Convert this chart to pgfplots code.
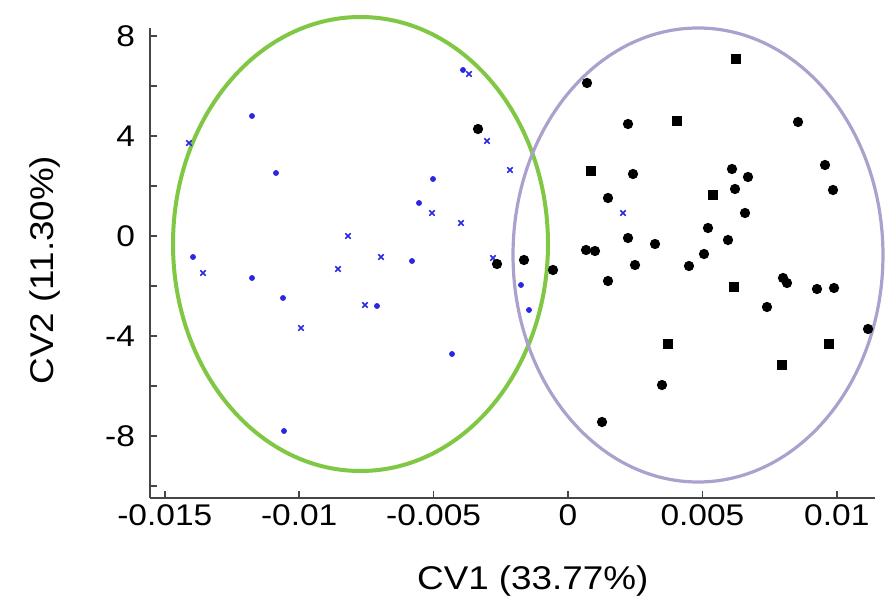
\documentclass[border=0pt]{standalone}
\usepackage{pgfplots}
\pgfplotsset{compat=1.18}
\usepackage{fontspec}
\setmainfont[FakeStretch=1.12]{Liberation Sans}
\definecolor{ellgreen}{RGB}{128,199,68}
\definecolor{ellpurple}{RGB}{172,160,204}
\definecolor{ptblue}{RGB}{40,40,225}
\definecolor{axgray}{RGB}{70,70,70}
\begin{document}
\begin{tikzpicture}
\useasboundingbox (-75bp,-53bp) rectangle (367.5bp,249bp);
\begin{axis}[at={(0,0)}, anchor=south west, scale only axis,
 width=362.5bp, height=235bp,
 xmin=-0.015551, xmax=0.011421, ymin=-10.48, ymax=8.32,
 axis x line*=bottom, axis y line*=left,
 axis line style={-, line width=1bp, color=axgray},
 tick align=inside, major tick length=3.5bp, minor tick length=3.5bp,
 tick style={line width=0.8bp, color=axgray},
 xtick={-0.015,-0.01,-0.005,0,0.005,0.01},
 xticklabels={-0.015,-0.01,-0.005,0,0.005,0.01}, scaled x ticks=false,
 ytick={-8,-4,0,4,8}, yticklabels={-8,-4,0,4,8},
 minor ytick={-10,-6,-2,2,6},
 tick label style={font=\fontsize{15}{18}\selectfont},
 yticklabel style={xshift=-4bp},
 label style={font=\fontsize{16.5}{20}\selectfont},
 xlabel={CV1 (33.77\%)}, ylabel={CV2 (11.30\%)},
 xlabel style={at={(axis description cs:0.528,-0.177)}, anchor=center},
 ylabel style={at={(axis description cs:-0.1448,0.485)}, anchor=center},
 clip=false]

\draw[ellgreen, line width=2bp] (axis cs:-0.00772,-0.32) ellipse [x radius=0.006975, y radius=9.08];
\draw[ellpurple, line width=1.6bp] (axis cs:0.004836,-0.76) ellipse [x radius=0.006882, y radius=9.08];

% blue crosses
\addplot[only marks, mark=x, mark size=1.9bp, ptblue, mark options={line width=0.8bp}] coordinates {
(-0.003683,6.48) (-0.014100,3.72) (-0.005060,0.92) (-0.003981,0.52)
(-0.008185,0.00) (-0.003013,3.80) (-0.002158,2.64) (-0.013579,-1.48)
(-0.009933,-3.68) (-0.008557,-1.32) (-0.006957,-0.84) (-0.007552,-2.76)
(-0.002790,-0.88) (0.002046,0.92)
};
% blue dots
\addplot[only marks, mark=*, mark size=1.25bp, ptblue] coordinates {
(-0.003906,6.64) (-0.011756,4.80) (-0.010863,2.52) (-0.005022,2.28)
(-0.005543,1.32) (-0.013951,-0.84) (-0.011756,-1.68) (-0.010603,-2.48)
(-0.005804,-1.00) (-0.007106,-2.80) (-0.004315,-4.72) (-0.001749,-1.96)
(-0.001451,-2.96) (-0.010565,-7.80)
};
% black circles
\addplot[only marks, mark=*, mark size=2.35bp, black] coordinates {
(-0.003348,4.28) (-0.002641,-1.12) (-0.001637,-0.96) (-0.000558,-1.36)
(0.000707,6.12) (0.002232,4.48) (0.008557,4.56)
(0.002418,2.48) (0.006101,2.68) (0.006696,2.36) (0.009561,2.84)
(0.009859,1.84) (0.001488,1.52) (0.006213,1.88) (0.006585,0.92)
(0.005208,0.32) (0.002232,-0.08) (0.003237,-0.32) (0.005952,-0.16)
(0.000670,-0.56) (0.001004,-0.60) (0.005060,-0.72) (0.002493,-1.16)
(0.004501,-1.20) (0.001488,-1.80) (0.007999,-1.68) (0.008147,-1.88)
(0.009263,-2.12) (0.009896,-2.08) (0.007403,-2.84) (0.011161,-3.72)
(0.003497,-5.96) (0.001265,-7.44)
};
% black squares
\addplot[only marks, mark=square*, mark size=2.1bp, black] coordinates {
(0.006250,7.08) (0.004055,4.60) (0.000856,2.60) (0.005394,1.64)
(0.006176,-2.04) (0.003720,-4.32) (0.009710,-4.32) (0.007961,-5.16)
};
\end{axis}
\end{tikzpicture}
\end{document}
